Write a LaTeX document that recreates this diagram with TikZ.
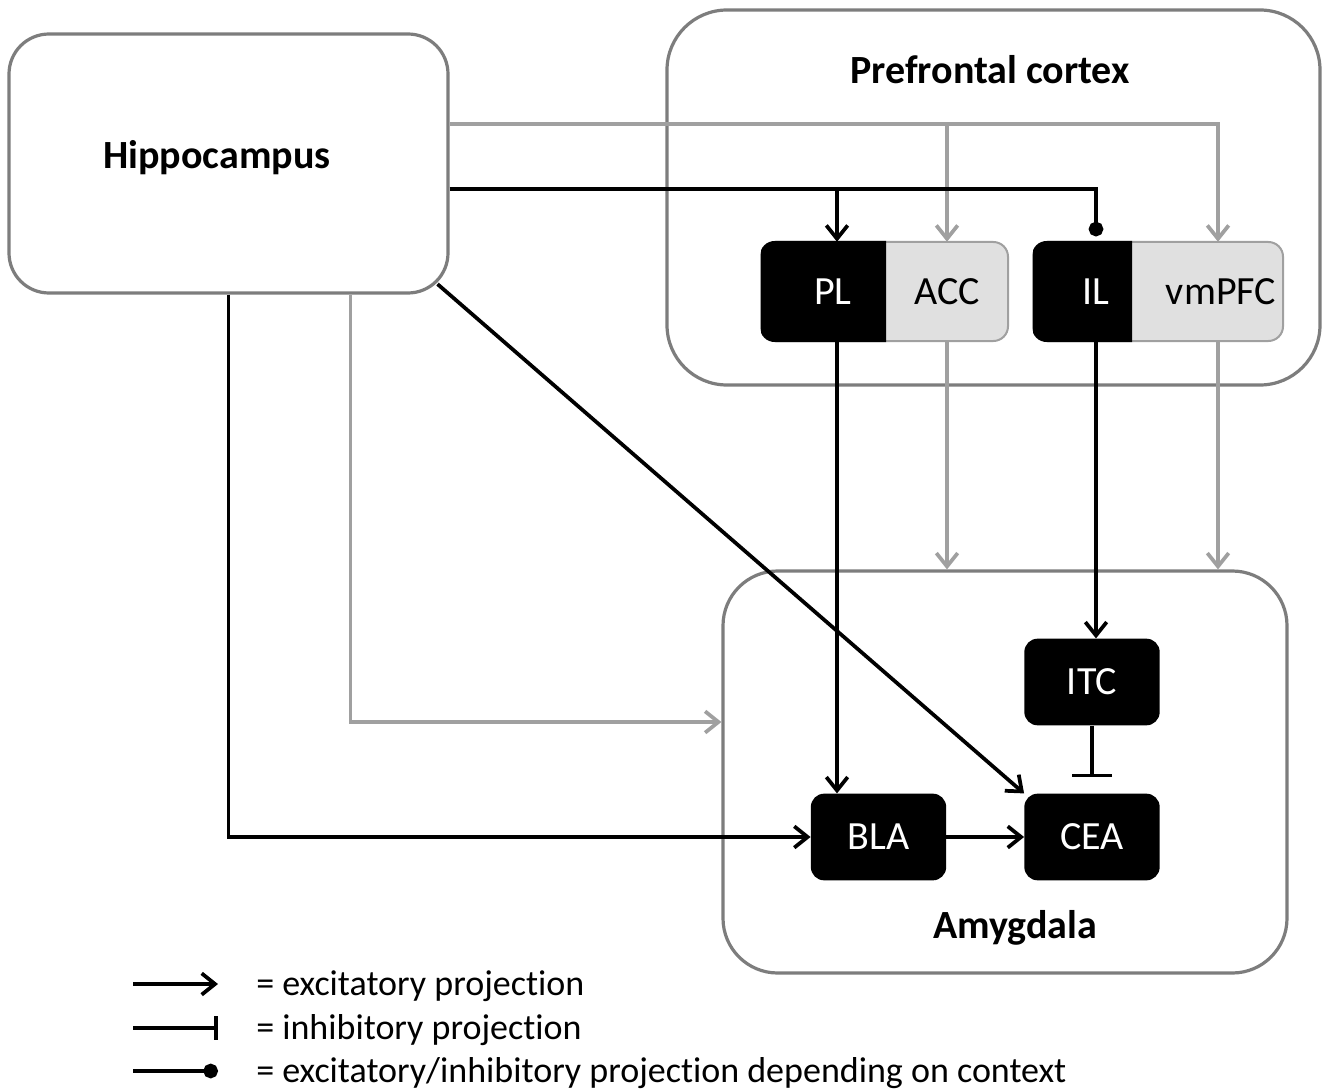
\documentclass[tikz,border=0pt]{standalone}
\usepackage{fontspec}
\setmainfont{Carlito}[Ligatures=CommonOff]
\usetikzlibrary{arrows.meta,calc}
\definecolor{lgray}{RGB}{160,160,160}
\definecolor{bgray}{RGB}{125,125,125}
\definecolor{fgray}{RGB}{224,224,224}
\tikzset{
  region/.style={draw=bgray, line width=2.4pt, fill=white, inner sep=0pt},
  blk/.style={fill=black, rounded corners=10pt, inner sep=0pt, text=white, font=\fontsize{30}{36}\selectfont,
              minimum width=101.5pt, minimum height=65pt},
  lbl/.style={inner sep=0pt, minimum height=74.25pt, font=\fontsize{30}{36}\selectfont},
  ttl/.style={font=\bfseries\fontsize{30}{36}\selectfont, inner sep=0pt},
  exc/.style={draw=black, line width=2.8pt, -{Straight Barb[length=10pt,width=16pt]}},
  excg/.style={draw=lgray, line width=2.8pt, -{Straight Barb[length=10pt,width=16pt]}},
  inh/.style={draw=black, line width=2.8pt, -{Bar[width=30pt]}},
  inhl/.style={draw=black, line width=2.8pt, -{Bar[width=18pt]}},
  ctx/.style={draw=black, line width=2.8pt, -{Circle[length=11pt]}},
  legtxt/.style={anchor=west, inner sep=0pt, font=\fontsize{27}{32}\selectfont},
}
\begin{document}
\begin{tikzpicture}[x=0.75pt,y=-0.75pt]
\useasboundingbox (0,0) rectangle (1331,1091);
% regions
\node[region, rounded corners=30pt, minimum width=329.25pt, minimum height=194.25pt] (hipp) at (228.5,163.5) {};
\node[ttl] (hipplbl) at (217,158) {Hippocampus};
\node[region, rounded corners=45pt, minimum width=489.75pt, minimum height=281.25pt] (pfc) at (993.5,197.5) {};
\node[ttl] (pfclbl) at (990,70) {Prefrontal cortex};
\node[region, rounded corners=41pt, minimum width=423pt, minimum height=301.5pt] (amyg) at (1005,772) {};
\node[ttl] (amyglbl) at (1015,928) {Amygdala};
% PL / ACC
\node[draw=lgray, line width=1.5pt, fill=fgray, rounded corners=11pt, minimum width=185.25pt, minimum height=74.25pt, inner sep=0pt] (placc) at (884.5,291.5) {};
\begin{scope}
  \clip (761,240) rectangle (886,343);
  \fill[black, rounded corners=11pt] (760,241) rectangle (1008,342);
\end{scope}
\node[draw=lgray, line width=1.5pt, fill=fgray, rounded corners=11pt, minimum width=187.5pt, minimum height=74.25pt, inner sep=0pt] (ilvm) at (1158,291.5) {};
\begin{scope}
  \clip (1033,240) rectangle (1132,343);
  \fill[black, rounded corners=11pt] (1032,241) rectangle (1283,342);
\end{scope}
\node[lbl, text=white] (PL) at (833,291.5) {PL};
\node[lbl] (ACC) at (947,291.5) {ACC};
\node[lbl, text=white] (IL) at (1096,291.5) {IL};
\node[lbl] (vmPFC) at (1221,291.5) {vmPFC};
% amygdala nuclei
\node[blk] (ITC) at (1092,682) {ITC};
\node[blk] (BLA) at (878.5,837) {BLA};
\node[blk] (CEA) at (1092,837) {CEA};
% connectors
\coordinate (gj) at (947,124);
\coordinate (bj) at (837,189);
\coordinate (vj) at (1218,124);
\draw[excg] (hipp.east |- gj) -| (vmPFC.north -| vj);
\draw[excg] (gj) -- (ACC.north);
\draw[ctx, shorten >=4pt] (hipp.east |- bj) -| (IL.north);
\draw[exc] (bj) -- (PL.north -| bj);
\draw[exc] (PL.south -| bj) -- (bj |- BLA.north);
\draw[excg] (ACC.south) -- (ACC.south |- amyg.north);
\draw[excg] (vmPFC.south -| vj) -- (vj |- amyg.north);
\draw[exc] (IL.south) -- (IL.south |- ITC.north);
\draw[exc] (hipp.south) |- (BLA.west);
\draw[excg] ($(hipp.south)+(122,0)$) |- ($(amyg.west)+(0,-50)$);
\draw[exc, shorten <=-12pt] (hipp.south east) -- (CEA.north west);
\draw[exc] (BLA.east) -- (CEA.west);
\draw[inh, shorten >=12pt] (ITC.south) -- (ITC.south |- CEA.north);
% legend
\coordinate (l1a) at (133,984); \coordinate (l1b) at (218,984);
\coordinate (l2a) at (133,1028); \coordinate (l2b) at (218,1028);
\coordinate (l3a) at (133,1071); \coordinate (l3b) at (218,1071);
\draw[exc] (l1a) -- (l1b);
\draw[inhl] (l2a) -- (l2b);
\draw[ctx] (l3a) -- (l3b);
\node[legtxt] (t1) at (256,986) {= excitatory projection};
\node[legtxt] (t2) at (256,1030) {= inhibitory projection};
\node[legtxt] (t3) at (256,1073) {= excitatory/inhibitory projection depending on context};
\end{tikzpicture}
\end{document}
